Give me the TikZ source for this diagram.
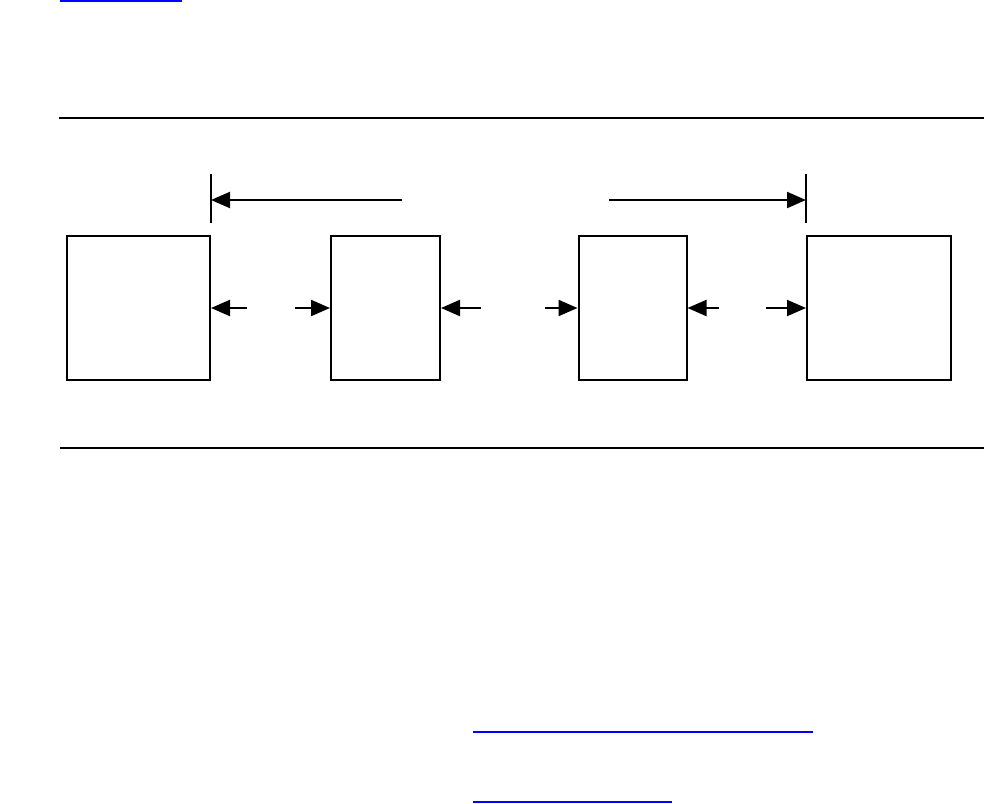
\documentclass[tikz,border=0pt]{standalone}
\usetikzlibrary{arrows.meta,calc}
\begin{document}
\begin{tikzpicture}[x=1pt, y=-1pt,
    block/.style={rectangle, draw, line width=2pt, inner sep=0pt, minimum width=#1, minimum height=144pt},
    dim/.style={-{Triangle[length=19pt,width=16pt]}, line width=2pt},
    rule/.style={line width=2.5pt},
    tick/.style={line width=2pt},
    link/.style={line width=2pt, blue},
]
\useasboundingbox (0,0) rectangle (984,803);
% link underline at the top
\draw[link] (60,1) -- (182,1);
% upper and lower rules
\draw[rule] (59,118) -- (984,118);
\draw[rule] (60,448) -- (984,448);
% four blocks
\node[block=143pt] (B1) at (138.5,308) {};
\node[block=109pt] (B2) at (385.5,308) {};
\node[block=108pt] (B3) at (632.5,308) {};
\node[block=144pt] (B4) at (879,308) {};
% span ticks and arrows
\draw[tick] ($(B1.north east)+(0,-12)$) coordinate (TL) -- ++(0,-49);
\draw[tick] ($(B4.north west)+(0,-12)$) coordinate (TR) -- ++(0,-49);
\coordinate (SL) at (402,200);
\coordinate (SR) at (609,200);
\draw[dim] (SL) -- (SL -| TL);
\draw[dim] (SR) -- (SR -| TR);
% gap arrows
\draw[dim] ($(B1.east)+(36,0)$) -- (B1.east);
\draw[dim] ($(B2.west)-(35,0)$) -- (B2.west);
\draw[dim] ($(B2.east)+(40,0)$) -- (B2.east);
\draw[dim] ($(B3.west)-(33,0)$) -- (B3.west);
\draw[dim] ($(B3.east)+(31,0)$) -- (B3.east);
\draw[dim] ($(B4.west)-(40,0)$) -- (B4.west);
% link underlines at the bottom
\draw[link] (473,732) -- (813,732);
\draw[link] (473,802) -- (672,802);
\end{tikzpicture}
\end{document}
